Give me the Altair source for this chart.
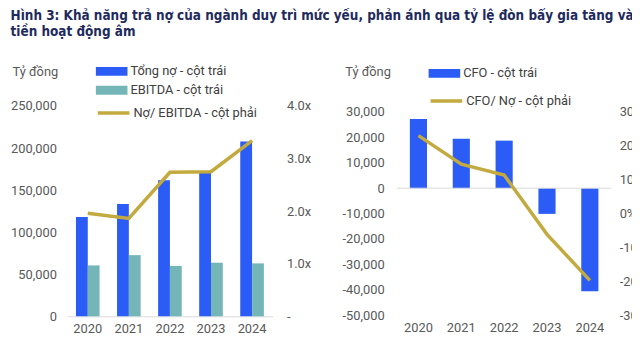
import altair as alt
import pandas as pd

years = ["2020", "2021", "2022", "2023", "2024"]
debt = [118000, 133600, 161700, 172000, 207800]
ebitda = [60500, 72700, 59800, 63700, 62900]
debt_ebitda = [1.96, 1.86, 2.74, 2.75, 3.34]
cfo = [27200, 19450, 18700, -10100, -40500]
cfo_debt = [0.230, 0.146, 0.114, -0.061, -0.197]

S_DEBT = "Tổng nợ - cột trái"
S_EBITDA = "EBITDA - cột trái"
S_RATIO = "Nợ/ EBITDA - cột phải"
S_CFO = "CFO - cột trái"
S_CFORATIO = "CFO/ Nợ - cột phải"

title_lines = [
    "Hình 3: Khả năng trả nợ của ngành duy trì mức yếu, phản ánh qua tỷ lệ đòn bẩy gia tăng và dòng",
    "tiền hoạt động âm",
]

BLUE = "#2B5CF6"
TEAL = "#74B5B8"
GOLD = "#C3AA3E"
GRAY = "#595959"
FONT = "Roboto"

left_bars = pd.DataFrame(
    {"year": years * 2, "series": [S_DEBT] * 5 + [S_EBITDA] * 5, "value": debt + ebitda}
)
left_line = pd.DataFrame({"year": years, "series": [S_RATIO] * 5, "ratio": debt_ebitda})
right_bars = pd.DataFrame({"year": years, "series": [S_CFO] * 5, "value": cfo})
right_line = pd.DataFrame({"year": years, "series": [S_CFORATIO] * 5, "ratio": cfo_debt})
zero_df = pd.DataFrame({"value": [0]})


def bar_legend(x, y, row_pad):
    return alt.Legend(
        orient="none", legendX=x, legendY=y, title=None, padding=0,
        symbolType="M-2,-0.56H2V0.56H-2Z", symbolSize=256, symbolStrokeWidth=0,
        labelOffset=11, rowPadding=row_pad,
        labelFont=FONT, labelFontSize=13, labelColor="#404040",
    )


def line_legend(x, y):
    return alt.Legend(
        orient="none", legendX=x, legendY=y, title=None, padding=0,
        symbolType="stroke", symbolSize=1024, symbolStrokeWidth=3.5,
        labelOffset=2, labelFont=FONT, labelFontSize=13, labelColor="#404040",
    )


x_axis = dict(labelAngle=0, ticks=False, labelPadding=6, labelFont=FONT, labelFontSize=13,
              labelColor=GRAY, title=None, grid=False)

# ---------- left chart ----------
lx = alt.X("year:N", scale=alt.Scale(paddingInner=0.425, paddingOuter=0.2125),
           axis=alt.Axis(domainColor="#D9D9D9", domainWidth=1, **x_axis))

lbar = alt.Chart(left_bars).mark_bar().encode(
    x=lx,
    xOffset=alt.XOffset("series:N", sort=[S_DEBT, S_EBITDA]),
    y=alt.Y("value:Q", scale=alt.Scale(domain=[0, 250000], nice=False),
            axis=alt.Axis(values=[0, 50000, 100000, 150000, 200000, 250000], format=",.0f",
                          domain=False, ticks=False, grid=False, labelPadding=11,
                          labelOverlap=False,
                          labelFont=FONT, labelFontSize=13, labelColor=GRAY,
                          title="Tỷ đồng", titleAngle=0, titleX=-56, titleY=-35,
                          titleAlign="left", titleBaseline="middle", titleFont=FONT,
                          titleFontSize=13, titleFontWeight="normal", titleColor=GRAY)),
    color=alt.Color("series:N",
                    scale=alt.Scale(domain=[S_DEBT, S_EBITDA], range=[BLUE, TEAL]),
                    legend=bar_legend(37, -43, 4)),
)
lline = alt.Chart(left_line).mark_line(strokeWidth=3.5).encode(
    x=alt.X("year:N"),
    y=alt.Y("ratio:Q", scale=alt.Scale(domain=[0, 4], nice=False),
            axis=alt.Axis(orient="right", values=[0, 1, 2, 3, 4],
                          labelExpr="datum.value == 0 ? '-' : format(datum.value, '.1f') + 'x'",
                          domain=False, ticks=False, grid=False, labelPadding=14,
                          labelOverlap=False,
                          labelFont=FONT, labelFontSize=13, labelColor=GRAY, title=None)),
    stroke=alt.Stroke("series:N", scale=alt.Scale(domain=[S_RATIO], range=[GOLD]),
                      legend=line_legend(29, -11)),
)
left = alt.layer(lbar, lline).resolve_scale(y="independent").properties(width=208, height=213)

# ---------- right chart ----------
rx = alt.X("year:N", scale=alt.Scale(paddingInner=0.6, paddingOuter=0.3),
           axis=alt.Axis(domain=False, **x_axis))
ry_scale = alt.Scale(domain=[-50000, 32330], nice=False)
r_left_axis = alt.Axis(values=list(range(-50000, 30001, 10000)),
                       labelExpr="(datum.value < 0 ? '-' : '') + format(abs(datum.value), ',.0f')",
                       domain=False, ticks=False, grid=False, labelPadding=13,
                       labelOverlap=False,
                       labelFont=FONT, labelFontSize=13, labelColor=GRAY,
                       title="Tỷ đồng", titleAngle=0, titleX=-53, titleY=-35,
                       titleAlign="left", titleBaseline="middle", titleFont=FONT,
                       titleFontSize=13, titleFontWeight="normal", titleColor=GRAY)
rbar = alt.Chart(right_bars).mark_bar().encode(
    x=rx,
    y=alt.Y("value:Q", scale=ry_scale, axis=r_left_axis),
    color=alt.Color("series:N", scale=alt.Scale(domain=[S_CFO], range=[BLUE]),
                    legend=bar_legend(40, -41, 4)),
)
rzero = alt.Chart(zero_df).mark_rule(color="#D9D9D9", strokeWidth=1).encode(
    y=alt.Y("value:Q", scale=ry_scale, axis=r_left_axis))
rline = alt.Chart(right_line).mark_line(strokeWidth=3.5).encode(
    x=alt.X("year:N"),
    y=alt.Y("ratio:Q", scale=alt.Scale(domain=[-0.3, 0.3175], nice=False),
            axis=alt.Axis(orient="right", values=[-0.3, -0.2, -0.1, 0, 0.1, 0.2, 0.3],
                          labelExpr="(datum.value < 0 ? '-' : '') + format(abs(datum.value), '.0%')",
                          domain=False, ticks=False, grid=False, labelPadding=8,
                          labelOverlap=False,
                          labelFont=FONT, labelFontSize=13, labelColor=GRAY, title=None)),
    stroke=alt.Stroke("series:N", scale=alt.Scale(domain=[S_CFORATIO], range=[GOLD]),
                      legend=line_legend(32, -23)),
)
right = alt.layer(alt.layer(rbar, rzero), rline).resolve_scale(y="independent").properties(
    width=217, height=212)

chart = (
    alt.hconcat(left, right, spacing=31)
    .resolve_scale(color="independent", stroke="independent")
    .properties(
        autosize=alt.AutoSizeParams(type="none"),
        padding={"left": 60, "top": 97, "right": 572, "bottom": 255},
        title=alt.TitleParams(
            text=title_lines, anchor="start", frame="bounds",
            font="'DejaVu Sans Condensed', 'Roboto Condensed', Roboto", fontSize=13.6,
            fontWeight="bold", color="#1E2A5E", lineHeight=17, offset=25,
        ),
    )
    .configure_view(stroke=None)
)

chart.save("out.html", embed_options={"renderer": "svg", "actions": False})
